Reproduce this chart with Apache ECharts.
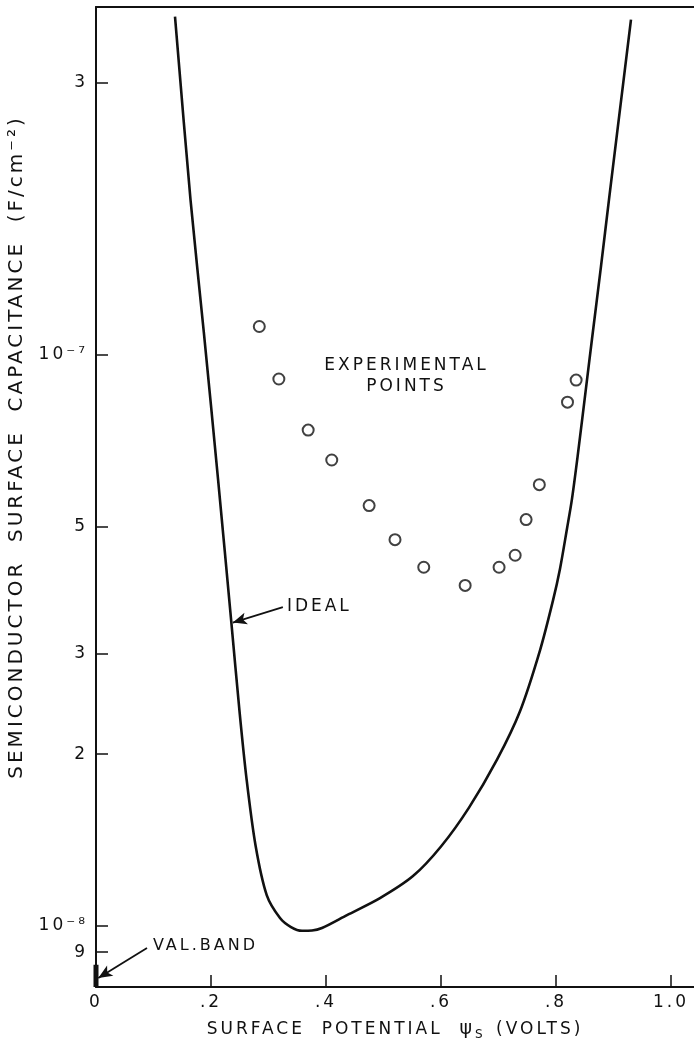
<!DOCTYPE html>
<html><head><meta charset="utf-8">
<script src="https://cdn.jsdelivr.net/npm/echarts@6/dist/echarts.min.js"></script>
<style>html,body{margin:0;padding:0;background:#fff}#c{width:694px;height:1047px}</style>
</head><body><div id="c"></div>
<script>
// Ideal curve (surface potential in volts, capacitance in F/cm^2)
const idealV = [0.1374, 0.1643, 0.1875, 0.2122, 0.2353, 0.2496, 0.2617, 0.2774, 0.2969, 0.3200, 0.3391, 0.3583, 0.3757, 0.3930, 0.4365, 0.4939, 0.5513, 0.6000, 0.6487, 0.6974, 0.7374, 0.7722, 0.7948, 0.8070, 0.8191, 0.8278, 0.8377, 0.8537, 0.8626, 0.8783, 0.8922, 0.9064, 0.9304];
const idealC = [3.915e-7, 1.874e-7, 1.097e-7, 6.07e-8, 3.41e-8, 2.376e-8, 1.814e-8, 1.385e-8, 1.133e-8, 1.033e-8, 9.96e-9, 9.81e-9, 9.82e-9, 9.92e-9, 1.045e-8, 1.119e-8, 1.223e-8, 1.378e-8, 1.612e-8, 1.956e-8, 2.378e-8, 3.04e-8, 3.718e-8, 4.226e-8, 4.964e-8, 5.60e-8, 6.66e-8, 9.01e-8, 1.067e-7, 1.431e-7, 1.874e-7, 2.454e-7, 3.868e-7];
// Experimental points
const expV = [0.284, 0.318, 0.369, 0.410, 0.475, 0.520, 0.570, 0.642, 0.701, 0.729, 0.748, 0.771, 0.820, 0.835];
const expC = [1.122e-7, 9.08e-8, 7.39e-8, 6.55e-8, 5.45e-8, 4.75e-8, 4.25e-8, 3.95e-8, 4.25e-8, 4.46e-8, 5.15e-8, 5.93e-8, 8.27e-8, 9.04e-8];
// Valence band mark at zero potential
const valBandV = [0, 0];
const valBandC = [7.82e-9, 8.55e-9];
// Axis ticks
const xTickValues = [0, 0.2, 0.4, 0.6, 0.8, 1.0];
const xTickLabels = ['0', '.2', '.4', '.6', '.8', '1.0'];
const yTickValues = [9e-9, 1e-8, 2e-8, 3e-8, 5e-8, 1e-7, 3e-7];
const yTickLabels = ['9', '10⁻⁸', '2', '3', '5', '10⁻⁷', '3'];

const FONT = 'DejaVu Sans';
const INK = '#111';
const SPACING = '3px';

// Wide lettering: letter spacing used both for measuring and drawing text
const mctx = document.createElement('canvas').getContext('2d');
try { mctx.letterSpacing = SPACING; } catch (e) {}
try {
  echarts.setPlatformAPI({measureText: (text, font) => { mctx.font = font || '12px sans-serif'; return mctx.measureText(text); }});
} catch (e) {}
const origGetContext = HTMLCanvasElement.prototype.getContext;
HTMLCanvasElement.prototype.getContext = function (type, opts) {
  const ctx = origGetContext.call(this, type, opts);
  if (type === '2d' && ctx && 'letterSpacing' in ctx) ctx.letterSpacing = SPACING;
  return ctx;
};

const zip = (a, b) => a.map((v, i) => [v, b[i]]);
const near = (arr, v, log) => arr.findIndex(t => log ? Math.abs(Math.log10(t) - Math.log10(v)) < 1e-6 : Math.abs(t - v) < 1e-9);

const chart = echarts.init(document.getElementById('c'), null, {renderer: 'canvas'});
const option = {
  animation: false,
  backgroundColor: '#fff',
  textStyle: {fontFamily: FONT, color: INK},
  grid: {left: 96, right: 0, top: 7, bottom: 58},
  xAxis: [{
    type: 'value', min: 0, max: 1.04, position: 'bottom',
    axisLine: {show: true, onZero: false, lineStyle: {color: INK, width: 2}},
    axisTick: {show: true, inside: true, length: 12, customValues: xTickValues, lineStyle: {color: INK, width: 1.5}},
    axisLabel: {show: true, customValues: xTickValues, margin: 6, fontSize: 17, fontFamily: FONT, color: INK,
      formatter: v => { const i = near(xTickValues, v, false); return i >= 0 ? xTickLabels[i] : ''; }},
    splitLine: {show: false},
    name: 'SURFACE  POTENTIAL  {psi|ψ}{sub|S} (VOLTS)',
    nameLocation: 'middle', nameGap: 30,
    nameTextStyle: {fontSize: 17, fontFamily: FONT, color: INK,
      rich: {psi: {fontSize: 19, fontFamily: FONT, color: INK}, sub: {fontSize: 12, fontFamily: FONT, color: INK, padding: [10, 2, 0, 0]}}}
  }, {
    type: 'value', min: 0, max: 1.04, position: 'top',
    axisLine: {show: true, onZero: false, lineStyle: {color: INK, width: 2}},
    axisTick: {show: false}, axisLabel: {show: false}, splitLine: {show: false}
  }],
  yAxis: {
    type: 'log', logBase: 10, min: 7.82e-9, max: 4.07e-7,
    axisLine: {show: true, onZero: false, lineStyle: {color: INK, width: 2}},
    axisTick: {show: true, inside: true, length: 12, customValues: yTickValues, lineStyle: {color: INK, width: 1.5}},
    minorTick: {show: false},
    axisLabel: {show: true, customValues: yTickValues, margin: 8, fontSize: 17, fontFamily: FONT, color: INK,
      formatter: v => { const i = near(yTickValues, v, true); return i >= 0 ? yTickLabels[i] : ''; }},
    splitLine: {show: false}
  },
  series: [{
    name: 'Ideal', type: 'line', data: zip(idealV, idealC), showSymbol: false, smooth: 0.3,
    lineStyle: {color: INK, width: 2.6}, silent: true
  }, {
    name: 'Experimental', type: 'scatter', data: zip(expV, expC), symbol: 'circle', symbolSize: 11,
    itemStyle: {color: '#fff', borderColor: INK, borderWidth: 2}, silent: true
  }, {
    name: 'Val. band', type: 'line', data: zip(valBandV, valBandC), showSymbol: false,
    lineStyle: {color: INK, width: 5}, silent: true,
    markLine: {
      silent: true, symbol: ['none', 'arrow'], symbolSize: [9, 14], label: {show: false},
      lineStyle: {color: INK, width: 1.8, type: 'solid'},
      data: [
        [{coord: [0.0887, 9.15e-9]}, {coord: [0.004, 8.11e-9]}],
        [{coord: [0.325, 3.62e-8], lineStyle: {curveness: -0.32}}, {coord: [0.238, 3.40e-8]}]
      ]
    }
  }]
};
chart.setOption(option);

document.querySelectorAll('#c canvas').forEach(cv => { const c = cv.getContext('2d'); if (c && 'letterSpacing' in c) c.letterSpacing = SPACING; });

const px = (v, c) => chart.convertToPixel({gridIndex: 0}, [v, c]);
const pExp = px(0.54, 9.2e-8), pIdeal = px(0.332, 3.62e-8), pVal = px(0.099, 9.23e-9);
chart.setOption({graphic: [
  {type: 'text', x: 17, y: 447, rotation: Math.PI / 2, silent: true,
   style: {text: 'SEMICONDUCTOR  SURFACE  CAPACITANCE  (F/cm⁻²)', fontSize: 20, fontFamily: FONT, fill: INK, align: 'center', verticalAlign: 'middle'}},
  {type: 'text', x: pExp[0], y: pExp[1], silent: true,
   style: {text: 'EXPERIMENTAL\nPOINTS', fontSize: 17, lineHeight: 21, fontFamily: FONT, fill: INK, align: 'center', verticalAlign: 'middle'}},
  {type: 'text', x: pIdeal[0], y: pIdeal[1], silent: true,
   style: {text: 'IDEAL', fontSize: 17, fontFamily: FONT, fill: INK, align: 'left', verticalAlign: 'middle'}},
  {type: 'text', x: pVal[0], y: pVal[1], silent: true,
   style: {text: 'VAL.BAND', fontSize: 16, fontFamily: FONT, fill: INK, align: 'left', verticalAlign: 'middle'}}
]});
</script></body></html>
